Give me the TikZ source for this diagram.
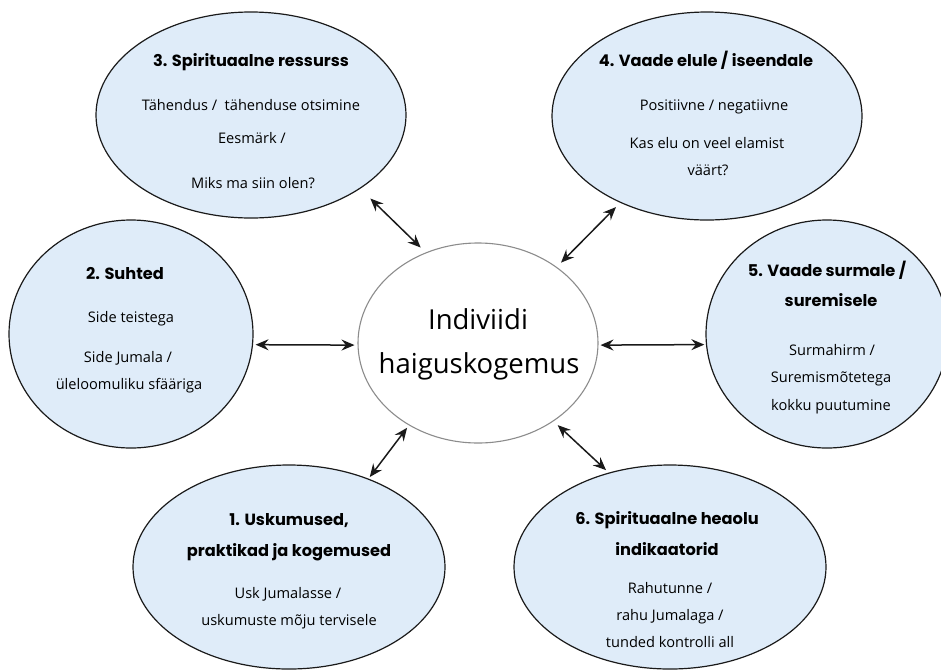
\documentclass[tikz,border=0pt]{standalone}
\usepackage{fontspec}
\setmainfont{Open Sans}
\newfontfamily\titlefont{Poppins}
\usetikzlibrary{arrows.meta,shapes.geometric}
\definecolor{bubblefill}{RGB}{223,236,249}
\definecolor{hubline}{RGB}{140,140,140}
\definecolor{inkline}{RGB}{26,26,26}
\tikzset{
  bubble/.style={ellipse, draw=inkline, line width=1.2pt, fill=bubblefill, inner sep=0pt},
  hub/.style={ellipse, draw=hubline, line width=1.1pt, fill=white, inner sep=0pt},
  ttl/.style={font=\titlefont\bfseries\fontsize{16.2}{18}\selectfont, anchor=base, inner sep=0pt},
  txt/.style={font=\fontsize{14.6}{17}\selectfont, anchor=base, inner sep=0pt},
  big/.style={font=\fontsize{27.5}{32}\selectfont, anchor=base, inner sep=0pt},
  arr/.style={{Stealth[length=13pt,width=11pt,inset=4.5pt]}-{Stealth[length=13pt,width=11pt,inset=4.5pt]}, line width=1.5pt, draw=inkline}
}
\begin{document}
\begin{tikzpicture}[x=1pt,y=-1pt]
\useasboundingbox (0,0) rectangle (941,670);
% ellipses
\node[bubble, minimum width=310pt, minimum height=206pt] (e3) at (251,115) {};
\node[bubble, minimum width=310pt, minimum height=208pt] (e4) at (707,116) {};
\node[bubble, minimum width=244pt, minimum height=228pt] (e2) at (131,334) {};
\node[bubble, minimum width=242pt, minimum height=228pt] (e5) at (827,334) {};
\node[bubble, minimum width=312pt, minimum height=204pt] (e1) at (289,567) {};
\node[bubble, minimum width=312pt, minimum height=204pt] (e6) at (670,567) {};
\node[hub, minimum width=240pt, minimum height=200pt] (c) at (478,343) {};
% centre text
\node[big] (c1) at (478,329) {Indiviidi};
\node[big] (c2) at (479,373) {haiguskogemus};
% 3
\node[ttl] (t3) at (251,66.5) {3. Spirituaalne ressurss};
\node[txt] (t3a) at (251,110) {Tähendus /\ \ tähenduse otsimine};
\node[txt] (t3b) at (252,143) {Eesmärk /};
\node[txt] (t3c) at (253,188) {Miks ma siin olen?};
% 4
\node[ttl] (t4) at (706,66) {4. Vaade elule / iseendale};
\node[txt] (t4a) at (714,110) {Positiivne / negatiivne};
\node[txt] (t4b) at (707,148) {Kas elu on veel elamist};
\node[txt] (t4c) at (708,175) {väärt?};
% 2
\node[ttl] (t2) at (125,279) {2. Suhted};
\node[txt] (t2a) at (131,322) {Side teistega};
\node[txt] (t2b) at (128,362) {Side Jumala /};
\node[txt] (t2c) at (129,389) {üleloomuliku sfääriga};
% 5
\node[ttl] (t5) at (827,276) {5. Vaade surmale /};
\node[ttl] (t5b) at (831,306) {suremisele};
\node[txt] (t5c) at (832,355) {Surmahirm /};
\node[txt] (t5d) at (831,382) {Suremismõtetega};
\node[txt] (t5e) at (831,410) {kokku puutumine};
% 1
\node[ttl] (t1) at (289,525) {1. Uskumused,};
\node[ttl] (t1b) at (289,556) {praktikad ja kogemused};
\node[txt] (t1c) at (288,598) {Usk Jumalasse /};
\node[txt] (t1d) at (289,625) {uskumuste mõju tervisele};
% 6
\node[ttl] (t6) at (667,524) {6. Spirituaalne heaolu};
\node[ttl] (t6b) at (667,555) {indikaatorid};
\node[txt] (t6c) at (670,593) {Rahutunne /};
\node[txt] (t6d) at (670,620) {rahu Jumalaga /};
\node[txt] (t6e) at (670,647) {tunded kontrolli all};
% arrows
\draw[arr, shorten <=14pt, shorten >=7pt] (e3.-34) -- (c.120);
\draw[arr, shorten <=6pt, shorten >=6pt] (e4.225) -- (c.44);
\draw[arr, shorten <=2.5pt, shorten >=3pt] (e2.-5) -- (c.181);
\draw[arr, shorten <=2pt, shorten >=1.6pt] (c.-1) -- (e5.185.2);
\draw[arr, shorten <=2pt, shorten >=3pt] (e1.48.7) -- (c.230.5);
\draw[arr, shorten <=5.6pt, shorten >=3.6pt] (c.-46.1) -- (e6.123);
\end{tikzpicture}
\end{document}
